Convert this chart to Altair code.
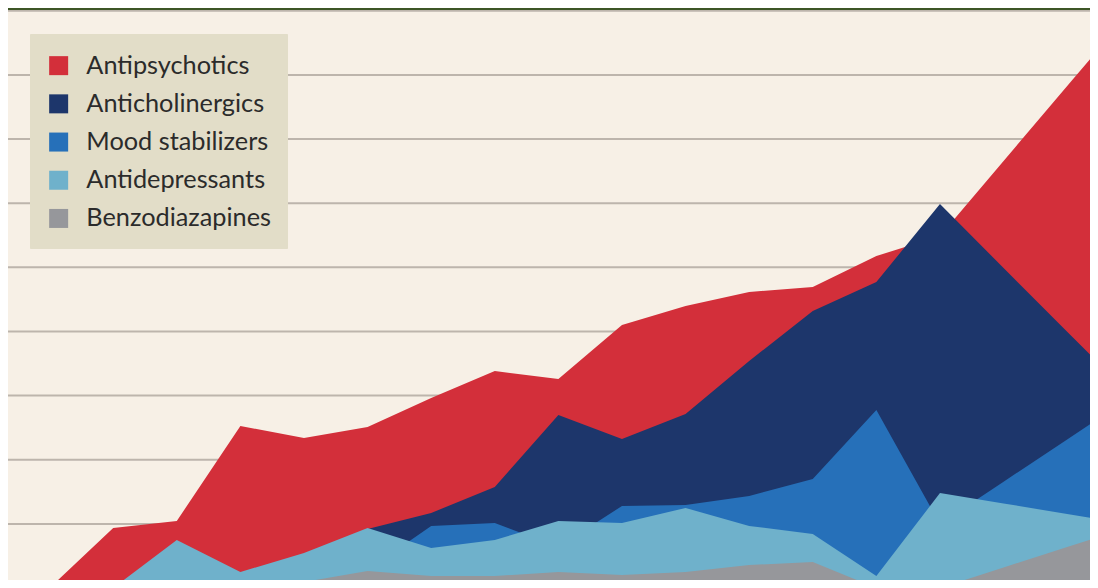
import altair as alt
import pandas as pd

idx = list(range(18))
series_names = ["Antipsychotics", "Anticholinergics", "Mood stabilizers", "Antidepressants", "Benzodiazapines"]
series_colors = ["#d32f3a", "#1d366b", "#2670b9", "#6fb1cb", "#96979b"]

antipsychotics = [0, 9.36, 10.45, 25.26, 23.39, 25.11, 29.63, 33.84, 32.59, 41.01, 43.98, 46.16, 46.94, 51.77, 54.89, 66.59, 78.28, 89.92]
anticholinergics = [0, 0, 0.3, 0.62, 4.99, 9.2, 11.7, 15.75, 26.98, 23.24, 27.13, 35.4, 43.2, 47.72, 59.88, 49.9, 39.98, 30.07]
mood_stabilizers = [0, 0, 0.2, 0.31, 4.37, 2.81, 9.67, 10.14, 6.39, 12.79, 12.94, 14.35, 17.0, 27.76, 9.98, 16.58, 23.17, 29.79]
antidepressants = [0, 0, 7.49, 2.5, 5.46, 9.36, 6.24, 7.49, 10.45, 10.14, 12.48, 9.67, 8.42, 1.87, 14.81, 13.18, 11.54, 9.92]
benzodiazapines = [0, 0.16, 1.09, 0.31, 0.94, 2.65, 1.87, 1.87, 2.5, 2.03, 2.5, 3.59, 4.05, 0, 0, 3.2, 6.39, 9.57]

grid_values = [10, 20, 30, 40, 50, 60, 70, 80, 90]

all_series = [antipsychotics, anticholinergics, mood_stabilizers, antidepressants, benzodiazapines]
rows = []
for name, vals in zip(series_names, all_series):
    for i, v in zip(idx, vals):
        rows.append({"i": i, "value": v, "series": name})
df = pd.DataFrame(rows)

W, H = 1082, 572
x_scale = alt.Scale(domain=[-0.654, 16.359], nice=False, zero=False)
y_scale = alt.Scale(domain=[1.2476, 90.448], nice=False, zero=False)
color_scale = alt.Scale(domain=series_names, range=series_colors)

grid = alt.Chart(pd.DataFrame({"g": grid_values})).mark_rule(
    color="#bdb5ac", strokeWidth=2
).encode(y=alt.Y("g:Q", scale=y_scale, axis=None))

layers = [grid]
for name in series_names:
    layers.append(
        alt.Chart(df[df.series == name]).mark_area(clip=True, interpolate="linear").encode(
            x=alt.X("i:Q", scale=x_scale, axis=None),
            y=alt.Y("value:Q", scale=y_scale, axis=None, stack=None),
            color=alt.Color("series:N", scale=color_scale,
                            legend=alt.Legend(title=" ", orient="none", legendX=22, legendY=26)),
        )
    )

top_band = alt.Chart(pd.DataFrame({"a": [0]})).mark_rect(color="#3e5626").encode(
    x=alt.value(0), x2=alt.value(W), y=alt.value(0), y2=alt.value(2)
)
layers.append(top_band)

chart = alt.layer(*layers).properties(
    width=W, height=H, padding=0, autosize=alt.AutoSizeParams(type="none"),
    background="#f7f0e6",
).configure_view(stroke=None).configure_legend(
    fillColor="#e2ddc8", padding=16, symbolType="square", symbolSize=361,
    symbolStrokeWidth=0, symbolOpacity=1, labelFontSize=25.3, labelFont="Lato",
    labelColor="#2b2b2b", rowPadding=12.2, labelOffset=15, strokeColor="#e2ddc8",
    cornerRadius=0, labelLimit=400, titleFontSize=1, titlePadding=2,
)

chart.save("out.html", embed_options={"renderer": "svg", "actions": False})
